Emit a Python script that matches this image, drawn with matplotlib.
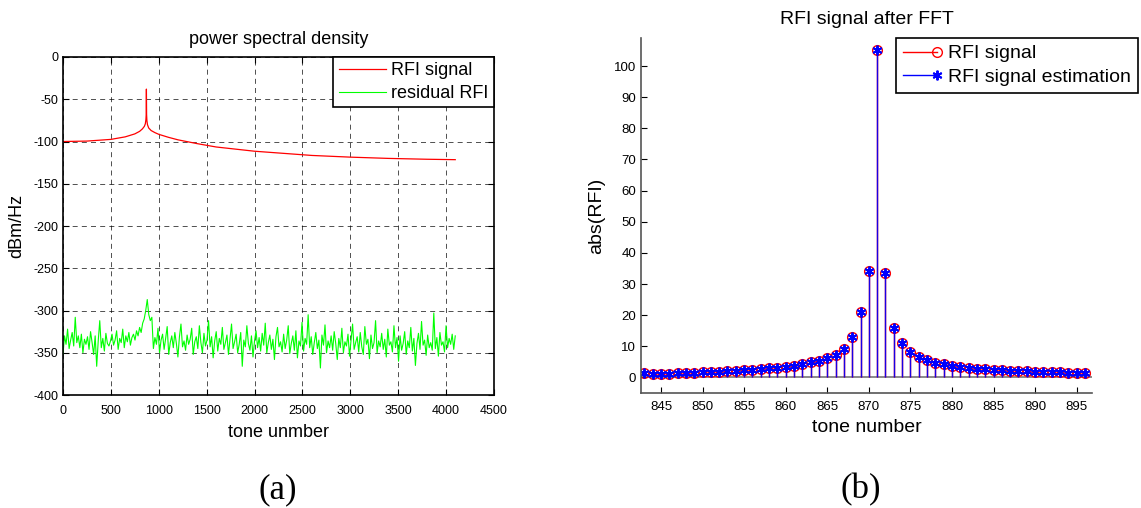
import numpy as np
import matplotlib.pyplot as plt
from matplotlib.lines import Line2D
from matplotlib.legend_handler import HandlerLine2D

plt.rcParams['font.family'] = ['Liberation Sans', 'DejaVu Sans']
plt.rcParams['axes.unicode_minus'] = False

# (a) power spectral density
red_tones = [0, 250, 500, 650, 750, 800, 830, 850, 860, 866, 869, 871, 873, 876,
             882, 895, 920, 960, 1000, 1100, 1200, 1400, 1600, 1800, 2000, 2300,
             2600, 3000, 3400, 3800, 4096]
red_db = [-100, -99.5, -97.5, -94.5, -91, -88, -85, -82, -79, -74, -68, -38, -68, -75,
          -80, -84, -87, -89.5, -91.5, -95, -98, -102.5, -106.5, -109, -111.5, -114,
          -116.5, -118.5, -120, -121, -121.5]

green_tones = np.arange(0, 4097, 16)
green_db = [
    -352, -330, -340, -322, -345, -335, -326, -342, -308, -338, -330, -344, -328, -350, -334, -340,
    -331, -346, -325, -338, -352, -330, -366, -336, -312, -344, -333, -348, -327, -339, -342, -336,
    -328, -341, -335, -324, -346, -333, -338, -322, -344, -330, -337, -326, -341, -332, -328, -335,
    -324, -330, -320, -326, -315, -310, -300, -287, -305, -312, -308, -345, -332, -340, -321, -350,
    -335, -328, -346, -333, -319, -352, -338, -330, -344, -326, -339, -355, -331, -316, -343, -336,
    -347, -329, -340, -334, -321, -352, -337, -331, -345, -318, -338, -350, -327, -342, -335, -312,
    -343, -331, -356, -336, -325, -348, -333, -340, -320, -346, -338, -329, -352, -334, -316, -345,
    -337, -328, -350, -340, -326, -366, -335, -343, -318, -339, -347, -330, -355, -336, -324, -344,
    -332, -348, -327, -341, -315, -350, -338, -329, -346, -334, -358, -331, -320, -343, -337, -349,
    -328, -345, -335, -318, -351, -339, -330, -347, -324, -356, -336, -342, -314, -348, -333, -340,
    -305, -344, -331, -352, -338, -326, -345, -335, -368, -329, -341, -317, -350, -336, -344, -330,
    -347, -325, -339, -358, -333, -344, -321, -350, -337, -342, -328, -354, -335, -316, -346, -338,
    -331, -349, -326, -343, -352, -319, -340, -334, -357, -329, -345, -338, -312, -350, -336, -343,
    -327, -346, -334, -355, -322, -341, -337, -349, -318, -344, -332, -360, -330, -347, -339, -325,
    -352, -336, -344, -320, -348, -333, -365, -339, -327, -346, -313, -341, -335, -353, -329, -344,
    -338, -347, -303, -345, -332, -354, -326, -341, -337, -349, -318, -344, -333, -340, -328, -346,
    -330,
]

# (b) RFI signal after FFT
fft_tones = np.arange(843, 897)
rfi_abs = [1.3, 1.2, 1.2, 1.2, 1.3, 1.5, 1.5, 1.6, 1.7, 1.9, 2.0, 2.1, 2.3, 2.5, 2.7, 2.9,
           3.1, 3.4, 3.8, 4.2, 4.8, 5.4, 6.1, 7.2, 9.2, 12.9, 21.0, 34.3, 105.3, 33.5, 15.9,
           10.9, 8.3, 6.6, 5.5, 4.7, 4.3, 3.6, 3.3, 3.0, 2.8, 2.6, 2.4, 2.3, 2.2, 2.1, 2.0,
           1.9, 1.8, 1.7, 1.6, 1.5, 1.4, 1.4]
rfi_est = rfi_abs


class EndMarker(HandlerLine2D):
    # matlab style legend: marker sits at the right end of the line
    def create_artists(self, legend, orig_handle, xdescent, ydescent, width, height,
                       fontsize, trans):
        arts = super().create_artists(legend, orig_handle, xdescent, ydescent, width,
                                      height, fontsize, trans)
        arts[0].set_markevery([2])
        return arts


fig = plt.figure(figsize=(11.41, 5.08), dpi=100)

# ---- left panel
ax1 = fig.add_axes([0.0552, 0.2224, 0.3777, 0.6654])
ax1.plot(red_tones, red_db, color='red', lw=0.9, label='RFI signal')
ax1.plot(green_tones, green_db, color='#00ff00', lw=0.8, label='residual RFI')
ax1.set_xlim(0, 4500)
ax1.set_ylim(-400, 0)
ax1.set_xticks(np.arange(0, 4501, 500))
ax1.set_yticks(np.arange(-400, 1, 50))
ax1.grid(True, color='black', linestyle=(0, (6, 5)), lw=0.6, alpha=0.8)
ax1.tick_params(direction='in', top=True, right=True, labelsize=9, length=4)
ax1.tick_params(axis='x', pad=7)
for s in ax1.spines.values():
    s.set_linewidth(1.2)
ax1.set_title('power spectral density', fontsize=13, pad=9)
ax1.set_xlabel('tone unmber', fontsize=13, labelpad=5)
ax1.set_ylabel('dBm/Hz', fontsize=13, labelpad=6)
leg1 = ax1.legend(loc='upper right', fontsize=13, fancybox=False, borderaxespad=0,
                  edgecolor='black', framealpha=1, handlelength=2.6, borderpad=0.3,
                  labelspacing=0.3, handletextpad=0.3)
leg1.get_frame().set_linewidth(1.2)

# ---- right panel
ax2 = fig.add_axes([0.5618, 0.2264, 0.3953, 0.6988])
ml, sl, bl = ax2.stem(fft_tones, rfi_abs, linefmt='r-', markerfmt='o', basefmt=' ')
sl.set_linewidth(1.0)
ml.set_markerfacecolor('none')
ml.set_markeredgecolor('red')
ml.set_markersize(7)
ml.set_markeredgewidth(1.0)
ml2, sl2, bl2 = ax2.stem(fft_tones, rfi_est, linefmt='b-', markerfmt='*', basefmt=' ')
sl2.set_linewidth(1.0)
sl2.set_alpha(0.9)
ml2.set_marker((6, 2, 0))
ml2.set_color('blue')
ml2.set_markersize(7)
ml2.set_markeredgewidth(1.4)
ax2.axhline(0, color='#777777', lw=1.2, zorder=1)
ax2.set_xlim(842.6, 896.85)
ax2.set_ylim(-5, 109)
ax2.set_xticks(np.arange(845, 896, 5))
ax2.set_yticks(np.arange(0, 101, 10))
ax2.spines['top'].set_visible(False)
ax2.spines['right'].set_visible(False)
for s in ('left', 'bottom'):
    ax2.spines[s].set_color('#555555')
    ax2.spines[s].set_linewidth(1.2)
ax2.tick_params(direction='in', labelsize=9.5, length=4)
ax2.tick_params(axis='x', pad=6)
ax2.set_title('RFI signal after FFT', fontsize=14, pad=10)
ax2.set_xlabel('tone number', fontsize=14, labelpad=4)
ax2.set_ylabel('abs(RFI)', fontsize=14, labelpad=6)

h_sig = Line2D([], [], color='red', lw=1, marker='o', markerfacecolor='none',
               markeredgecolor='red', markersize=7)
h_est = Line2D([], [], color='blue', lw=1, marker=(6, 2, 0), markersize=7,
               markeredgewidth=1.4)
leg2 = ax2.legend([h_sig, h_est], ['RFI signal', 'RFI signal estimation'],
                  handler_map={Line2D: EndMarker(numpoints=1)},
                  loc='upper left', bbox_to_anchor=(896 / 1141, 1 - 38 / 508),
                  bbox_transform=fig.transFigure, fontsize=14, fancybox=False,
                  borderaxespad=0, edgecolor='black', framealpha=1, handlelength=1.75,
                  borderpad=0.35, labelspacing=0.3, handletextpad=0.6)
leg2.get_frame().set_linewidth(1.2)

# captions
fig.text(278 / 1141, 1 - 490 / 508, '(a)', fontsize=25, family='Liberation Serif',
         ha='center', va='center')
fig.text(861 / 1141, 1 - 490 / 508, '(b)', fontsize=25, family='Liberation Serif',
         ha='center', va='center')

fig.savefig('out.png', dpi=100)
